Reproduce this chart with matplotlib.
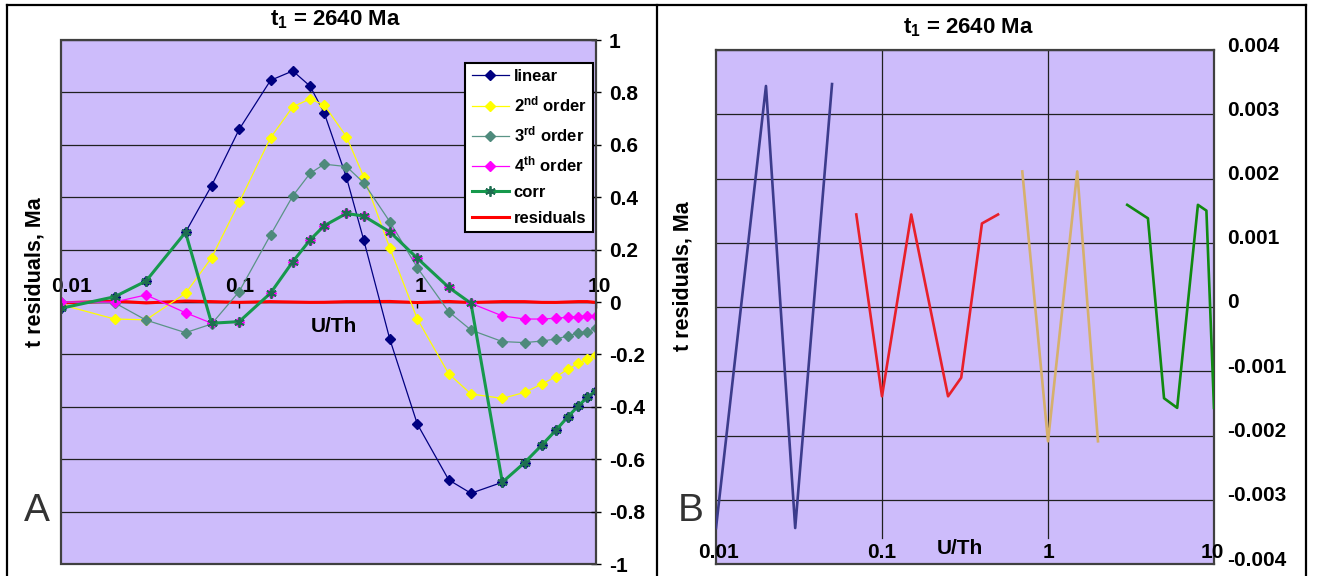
import numpy as np
import matplotlib
matplotlib.use('Agg')
import matplotlib.pyplot as plt
from matplotlib.lines import Line2D
from matplotlib.patches import Rectangle
from matplotlib.ticker import NullLocator
from matplotlib.transforms import ScaledTranslation, blended_transform_factory

plt.rcParams['font.family'] = ['Liberation Sans', 'DejaVu Sans']
plt.rcParams['font.weight'] = 'bold'
plt.rcParams['mathtext.default'] = 'regular'

# U/Th ratios used for the fits
u_th = [0.01, 0.02, 0.03, 0.05, 0.07, 0.1, 0.15, 0.2, 0.25, 0.3, 0.4, 0.5,
        0.7, 1, 1.5, 2, 3, 4, 5, 6, 7, 8, 9, 10]

# age residuals (Ma) for the approximations, panel A
linear = [-0.024, 0.02, 0.08, 0.266, 0.444, 0.659, 0.846, 0.882, 0.824, 0.722, 0.476, 0.237,
          -0.141, -0.466, -0.679, -0.730, -0.688, -0.613, -0.546, -0.489, -0.438, -0.397, -0.364, -0.340]
order2 = [-0.01, -0.065, -0.068, 0.033, 0.169, 0.380, 0.627, 0.745, 0.775, 0.752, 0.631, 0.478,
          0.207, -0.065, -0.274, -0.351, -0.368, -0.345, -0.313, -0.285, -0.257, -0.234, -0.218, -0.202]
order3 = [0.0, -0.003, -0.069, -0.117, -0.084, 0.040, 0.256, 0.405, 0.491, 0.526, 0.517, 0.455,
          0.307, 0.131, -0.037, -0.107, -0.151, -0.155, -0.149, -0.141, -0.130, -0.117, -0.113, -0.101]
order4 = [0.0, 0.0, 0.027, -0.041, -0.081, -0.075, 0.034, 0.154, 0.237, 0.291, 0.338, 0.328,
          0.268, 0.167, 0.056, -0.005, -0.053, -0.065, -0.065, -0.062, -0.058, -0.056, -0.053, -0.053]
corr = [-0.024, 0.02, 0.08, 0.266, -0.081, -0.075, 0.034, 0.154, 0.237, 0.291, 0.338, 0.328,
        0.268, 0.167, 0.056, -0.005, -0.688, -0.613, -0.546, -0.489, -0.438, -0.397, -0.364, -0.340]

# residuals after correction, by U/Th range (panel B)
res_x1 = [0.01, 0.02, 0.03, 0.05]
res_y1 = [-0.00344, 0.00344, -0.00344, 0.00347]
res_x2 = [0.07, 0.1, 0.15, 0.25, 0.3, 0.4, 0.5]
res_y2 = [0.00144, -0.00139, 0.00144, -0.00139, -0.00110, 0.00130, 0.00144]
res_x3 = [0.7, 1, 1.5, 2]
res_y3 = [0.00211, -0.00209, 0.00211, -0.00209]
res_x4 = [3, 4, 5, 6, 8, 9, 10]
res_y4 = [0.00159, 0.00138, -0.00142, -0.00157, 0.00159, 0.00150, -0.00157]

x_ticks = [0.01, 0.1, 1, 10]
x_ticklabels = ['0.01', '0.1', '1', '10']
a_yticks = [-1, -0.8, -0.6, -0.4, -0.2, 0, 0.2, 0.4, 0.6, 0.8, 1]
a_ylabels = ['-1', '-0.8', '-0.6', '-0.4', '-0.2', '0', '0.2', '0.4', '0.6', '0.8', '1']
b_yticks = [-0.004, -0.003, -0.002, -0.001, 0, 0.001, 0.002, 0.003, 0.004]
b_ylabels = ['-0.004', '-0.003', '-0.002', '-0.001', '0', '0.001', '0.002', '0.003', '0.004']

bg = '#CDBCFB'
W, H = 1317, 576


def fx(px):
    return px / W


def fy(py):
    return 1 - py / H


def off(dx, dy):
    return ScaledTranslation(dx / 100, dy / 100, fig.dpi_scale_trans)


fig = plt.figure(figsize=(13.17, 5.76), dpi=100)

# ---------------- panel A ----------------
axA = fig.add_axes([fx(61), fy(564), (595.5 - 61) / W, (564 - 40) / H])
axA.set_facecolor(bg)
axA.plot(u_th, linear, color='#000080', lw=0.9, marker='D', ms=5.3, label='linear', zorder=4)
axA.plot(u_th, order2, color='#FFFF00', lw=0.9, marker='D', ms=5.3, label='2$^{nd}$ order', zorder=4)
axA.plot(u_th, order3, color='#5A9486', lw=0.9, marker='D', ms=5.3, mfc='#4E8A7C', mec='#4E8A7C',
         label='3$^{rd}$ order', zorder=4)
axA.plot(u_th, order4, color='#FF00FF', lw=0.9, marker='D', ms=5.3, label='4$^{th}$ order', zorder=4)
axA.plot(u_th, corr, color='#16994C', lw=2.2, marker=(6, 2, 0), ms=7.5, mec='#1E6E50', mew=1.3,
         label='corr', zorder=4)
res_all_x = np.concatenate([res_x1, res_x2, res_x3, res_x4])
res_all_y = np.concatenate([res_y1, res_y2, res_y3, res_y4])
axA.plot(res_all_x, res_all_y, color='#FF0000', lw=2.2, label='residuals', zorder=3)

axA.set_xscale('log')
axA.set_xlim(0.01, 10)
axA.set_ylim(-1, 1)
axA.xaxis.set_minor_locator(NullLocator())
axA.set_xticks(x_ticks)
axA.tick_params(axis='x', direction='out', length=4, width=1, labelbottom=False)
axA.set_yticks(a_yticks, a_ylabels)
axA.yaxis.tick_right()
axA.tick_params(axis='y', direction='inout', length=7, width=1, pad=6, labelsize=15)
axA.yaxis.grid(True, color='#202020', lw=0.9)
axA.set_axisbelow(True)
axA.spines['bottom'].set_position(('data', 0))
axA.spines['bottom'].set_linewidth(1)
axA.spines['top'].set_visible(False)
axA.spines['left'].set_visible(False)
axA.spines['right'].set_linewidth(1.3)
axA.add_patch(Rectangle((0, 0), 1, 1, transform=axA.transAxes, fill=False, ec='#404040',
                        lw=1.6, zorder=6, clip_on=False))

for xv, s, dx in zip(x_ticks, x_ticklabels, [11, 1, 3, 4]):
    axA.text(xv, 0, s, transform=axA.transData + off(dx, 15), ha='center', va='center', fontsize=15)

leg = axA.legend(loc='upper right', bbox_to_anchor=(0.996, 0.957), fontsize=12, frameon=True,
                 fancybox=False, edgecolor='black', framealpha=1, borderpad=0.4, labelspacing=0.62,
                 handlelength=2.2, handletextpad=0.3, borderaxespad=0)
leg.get_frame().set_linewidth(1.5)
leg.set_zorder(7)

# ---------------- panel B ----------------
axB = fig.add_axes([fx(716), fy(564), (1214 - 716) / W, (564 - 50) / H])
axB.set_facecolor(bg)
axB.plot(res_x1, res_y1, color='#3C3C8C', lw=1.9, zorder=3)
axB.plot(res_x2, res_y2, color='#E8202A', lw=1.9, zorder=3)
axB.plot(res_x3, res_y3, color='#D6B06C', lw=1.9, zorder=3)
axB.plot(res_x4, res_y4, color='#108A10', lw=1.9, zorder=3)

axB.set_xscale('log')
axB.set_xlim(0.01, 10)
axB.set_ylim(-0.004, 0.004)
axB.xaxis.set_minor_locator(NullLocator())
axB.set_xticks([])
axB.set_yticks(b_yticks, b_ylabels)
axB.yaxis.tick_right()
axB.tick_params(axis='y', length=0, pad=9.5, labelsize=15)
axB.yaxis.grid(True, color='#202020', lw=0.9)
for xv in x_ticks[1:3]:
    axB.axvline(xv, ymin=0.05, color='#202020', lw=0.9, zorder=1)
for sp in axB.spines.values():
    sp.set_color('#404040')
    sp.set_linewidth(1.6)
for lab in axB.get_yticklabels():
    lab.set_transform(lab.get_transform() + off(0, 6))

trB = blended_transform_factory(axB.transData, axB.transAxes)
for xv, s, dx in zip(x_ticks, x_ticklabels, [2.5, 0, 0, -2]):
    axB.text(xv, 0, s, transform=trB + off(dx, 12), ha='center', va='center', fontsize=15)

# ---------------- texts and frames ----------------
fig.text(fx(335), fy(20), 't$_1$ = 2640 Ma', ha='center', va='center', fontsize=16)
fig.text(fx(968), fy(28), 't$_1$ = 2640 Ma', ha='center', va='center', fontsize=16)
fig.text(fx(35), fy(272), 't residuals, Ma', rotation=90, ha='center', va='center', fontsize=15.5)
fig.text(fx(683), fy(276), 't residuals, Ma', rotation=90, ha='center', va='center', fontsize=15.5)
fig.text(fx(334), fy(326), 'U/Th', ha='center', va='center', fontsize=15)
fig.text(fx(960), fy(549), 'U/Th', ha='center', va='center', fontsize=15)
fig.text(fx(37), fy(511), 'A', ha='center', va='center', fontsize=28, fontweight='normal', color='#333333')
fig.text(fx(691), fy(511), 'B', ha='center', va='center', fontsize=28, fontweight='normal', color='#333333')

fig.add_artist(Line2D([fx(7), fx(1306)], [fy(5), fy(5)], transform=fig.transFigure, color='black', lw=1.6))
for xp in [7, 657, 1306]:
    fig.add_artist(Line2D([fx(xp), fx(xp)], [fy(5), 0], transform=fig.transFigure, color='black', lw=1.6))

fig.savefig('out.png', dpi=100)
